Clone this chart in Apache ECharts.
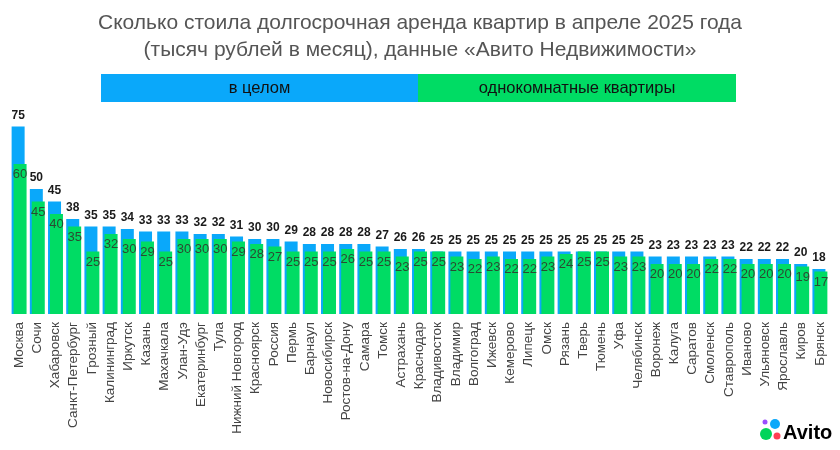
<!DOCTYPE html>
<html><head><meta charset="utf-8">
<script src="https://cdn.jsdelivr.net/npm/echarts@6/dist/echarts.min.js"></script>
<style>html,body{margin:0;padding:0;background:#fff}#c{width:840px;height:450px}</style>
</head><body><div id="c"></div>
<script>
const categories = ["Москва","Сочи","Хабаровск","Санкт-Петербург","Грозный","Калининград","Иркутск","Казань","Махачкала","Улан-Удэ","Екатеринбург","Тула","Нижний Новгород","Красноярск","Россия","Пермь","Барнаул","Новосибирск","Ростов-на-Дону","Самара","Томск","Астрахань","Краснодар","Владивосток","Владимир","Волгоград","Ижевск","Кемерово","Липецк","Омск","Рязань","Тверь","Тюмень","Уфа","Челябинск","Воронеж","Калуга","Саратов","Смоленск","Ставрополь","Иваново","Ульяновск","Ярославль","Киров","Брянск"];
const overall = [75,50,45,38,35,35,34,33,33,33,32,32,31,30,30,29,28,28,28,28,27,26,26,25,25,25,25,25,25,25,25,25,25,25,25,23,23,23,23,23,22,22,22,20,18];
const oneRoom = [60,45,40,35,25,32,30,29,25,30,30,30,29,28,27,25,25,25,26,25,25,23,25,25,23,22,23,22,22,23,24,25,25,23,23,20,20,20,22,22,20,20,20,19,17];
const seriesNames = ["в целом","однокомнатные квартиры"];
const titleText = "Сколько стоила долгосрочная аренда квартир в апреле 2025 года\n(тысяч рублей в месяц), данные «Авито Недвижимости»";

const BLUE = '#0aa8fa', GREEN = '#00dc64';
const FONT = '"Liberation Sans", Arial, sans-serif';
const chart = echarts.init(document.getElementById('c'));
chart.setOption({
  animation: false,
  backgroundColor: '#fff',
  title: {
    text: titleText, left: 'center', top: 5,
    textStyle: {fontSize: 21, lineHeight: 27, color: '#555', fontWeight: 'normal', fontFamily: FONT}
  },
  grid: {left: 10, right: 11, top: 114, bottom: 136},
  xAxis: {
    type: 'category', data: categories,
    axisLine: {show: false}, axisTick: {show: false},
    axisLabel: {rotate: 90, interval: 0, fontSize: 13.5, color: '#444', margin: 8, fontFamily: FONT}
  },
  yAxis: {type: 'value', min: 0, max: 80, show: false, splitLine: {show: false}},
  series: [
    {
      name: seriesNames[0], type: 'bar', data: overall, barWidth: 13, barGap: '-85%',
      itemStyle: {color: BLUE},
      label: {show: true, position: 'top', distance: 5, fontSize: 12, fontWeight: 'bold', color: '#1a1a1a', fontFamily: FONT}
    },
    {
      name: seriesNames[1], type: 'bar', data: oneRoom, barWidth: 13,
      itemStyle: {color: GREEN},
      label: {show: true, position: 'insideTop', distance: 4, fontSize: 13, color: '#2b4a32', fontFamily: FONT}
    }
  ],
  graphic: [
    {type: 'rect', shape: {x: 101, y: 74, width: 317, height: 28}, style: {fill: BLUE}},
    {type: 'rect', shape: {x: 418, y: 74, width: 318, height: 28}, style: {fill: GREEN}},
    {type: 'text', x: 259.5, y: 88, style: {text: seriesNames[0], fontSize: 16.5, fill: '#111', align: 'center', verticalAlign: 'middle', fontFamily: FONT}},
    {type: 'text', x: 577, y: 88, style: {text: seriesNames[1], fontSize: 16.5, fill: '#111', align: 'center', verticalAlign: 'middle', fontFamily: FONT}},
    {type: 'circle', shape: {cx: 765, cy: 422, r: 2.5}, style: {fill: '#9b4dff'}},
    {type: 'circle', shape: {cx: 775, cy: 424, r: 5}, style: {fill: '#0aa8fa'}},
    {type: 'circle', shape: {cx: 766, cy: 434, r: 6}, style: {fill: '#00d45a'}},
    {type: 'circle', shape: {cx: 777, cy: 436, r: 3.5}, style: {fill: '#ff4053'}},
    {type: 'text', x: 783, y: 433, style: {text: 'Avito', fontSize: 20, fontWeight: 'bold', fill: '#000', verticalAlign: 'middle', fontFamily: FONT}}
  ]
});
</script></body></html>
